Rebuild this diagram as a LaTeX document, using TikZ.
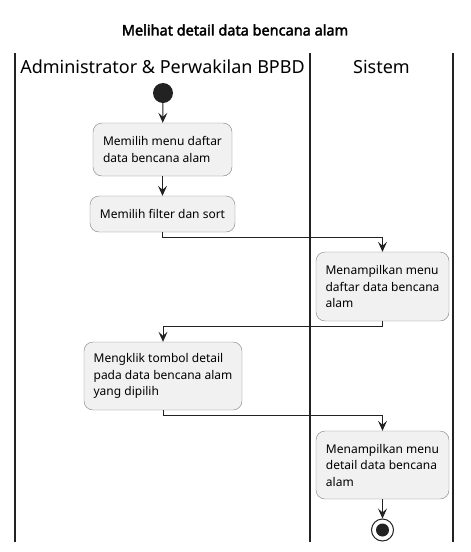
\documentclass[tikz,border=0pt]{standalone}
\usepackage{fontspec}
\setmainfont{Noto Sans}[AutoFakeBold=2.5]
\usetikzlibrary{arrows.meta}
\definecolor{boxfill}{HTML}{F1F1F1}
\definecolor{boxline}{HTML}{808080}
\definecolor{dark}{HTML}{222222}
\begin{document}
\begin{tikzpicture}[x=1pt, y=-1pt,
	aksi/.style={draw=boxline, fill=boxfill, rounded corners=9pt, align=left,
		inner xsep=0pt, font=\fontsize{12}{16.5}\selectfont},
	pfeil/.style={draw=dark, line width=0.9pt, -{Stealth[length=10pt, width=9pt, inset=4pt]}},
	lane/.style={draw=dark, line width=1.4pt},
	mulai/.style={circle, fill=dark, minimum size=20pt, inner sep=0pt},
	ende/.style={circle, draw=dark, line width=1pt, fill=white, minimum size=22pt, inner sep=0pt,
		path picture={\fill[dark] (path picture bounding box.center) circle (6.5pt);}}]
	\useasboundingbox (0,0) rectangle (471,552);
	%title
	\node[font=\fontsize{14.5}{16}\selectfont\bfseries] (judul) at (235,30) {Melihat detail data bencana alam};
	%lanes
	\draw[lane] (15,53) -- (15,542);
	\draw[lane] (310,53) -- (310,542);
	\draw[lane] (453,53) -- (453,542);
	\node[font=\fontsize{18}{20}\selectfont] (admin) at (162.5,67) {Administrator \& Perwakilan BPBD};
	\node[font=\fontsize{18}{20}\selectfont] (sistem) at (381.5,67) {Sistem};
	%activities
	\node[mulai] (mulai) at (163,93) {};
	\node[aksi, minimum width=139, minimum height=53] (pilihmenu) at (162.5,149.5)
	{Memilih menu daftar\\data bencana alam};
	\node[aksi, minimum width=145, minimum height=36] (pilihfilter) at (162.5,214)
	{Memilih filter dan sort};
	\node[aksi, minimum width=133, minimum height=69] (tampildaftar) at (382.5,286.5)
	{Menampilkan menu\\daftar data bencana\\alam};
	\node[aksi, minimum width=158, minimum height=68] (klikdetail) at (163,376)
	{Mengklik tombol detail\\pada data bencana alam\\yang dipilih};
	\node[aksi, minimum width=133, minimum height=68] (tampildetail) at (382.5,465)
	{Menampilkan menu\\detail data bencana\\alam};
	\node[ende] (selesai) at (382.5,530) {};
	%flows
	\draw[pfeil] (mulai) -- (pilihmenu);
	\draw[pfeil] (pilihmenu) -- (pilihfilter);
	\draw[pfeil] (pilihfilter.south) -- ++(0,5) -| (tampildaftar.north);
	\draw[pfeil] (tampildaftar.south) -- ++(0,5) -| (klikdetail.north);
	\draw[pfeil] (klikdetail.south) -- ++(0,5) -| (tampildetail.north);
	\draw[pfeil] (tampildetail) -- (selesai);
\end{tikzpicture}
\end{document}
